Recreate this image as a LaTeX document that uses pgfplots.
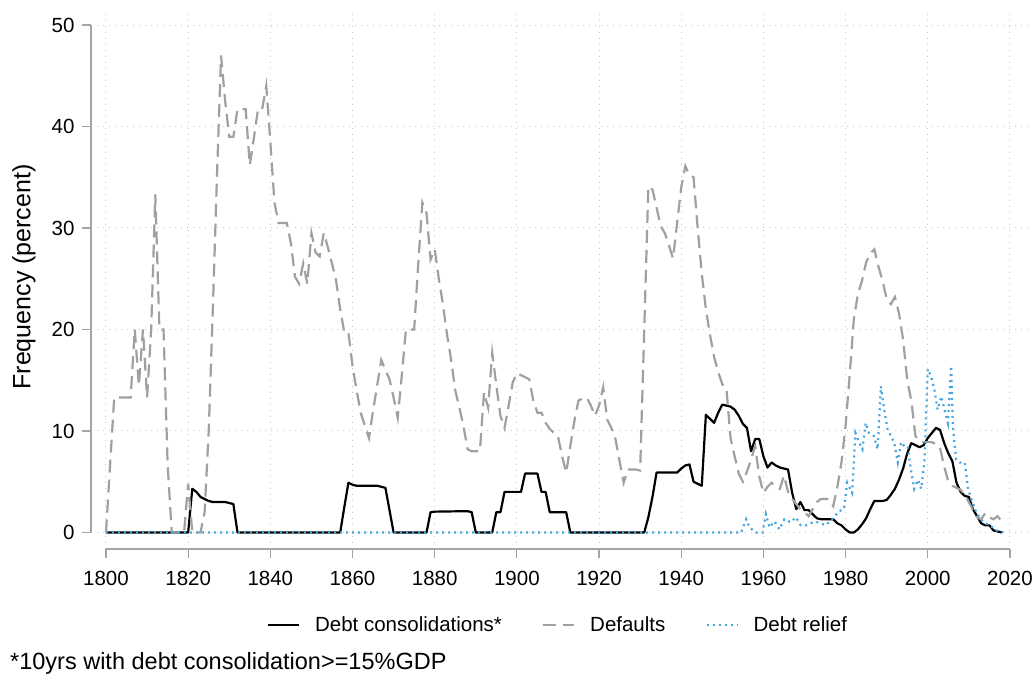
\documentclass[border=0pt]{standalone}
\usepackage{fontspec}
\setmainfont{Liberation Sans}
\usepackage{pgfplots}
\pgfplotsset{compat=1.18}
\usepackage{pgfplotstable}
\definecolor{defgray}{RGB}{160,160,160}
\definecolor{relblue}{RGB}{70,165,220}
\definecolor{gridgray}{RGB}{200,200,200}
\definecolor{axgray}{RGB}{165,165,165}

\pgfplotstableread{
year val
1800 0
1801 6.7
1802 13.3
1803 13.3
1804 13.3
1805 13.3
1806 13.3
1807 20
1808 14.5
1809 20
1810 13.3
1811 20
1812 33.3
1813 20
1814 20
1815 6.7
1816 0
1817 0
1818 0
1819 0
1820 4.8
1821 0
1822 0
1823 0
1824 2
1825 10
1826 22
1827 35
1828 47
1829 42.5
1830 39
1831 39
1832 41.7
1833 41.7
1834 41.7
1835 36.2
1836 38.9
1837 41.7
1838 41.7
1839 44
1840 38.5
1841 32.5
1842 30.5
1843 30.5
1844 30.5
1845 28.5
1846 25.2
1847 24.5
1848 26.5
1849 24.5
1850 29.5
1851 27.6
1852 27.2
1853 29.5
1854 28.1
1855 26.5
1856 24.8
1857 22
1858 19.7
1859 19.7
1860 16.4
1861 14
1862 11.8
1863 10.5
1864 9.3
1865 12
1866 14.5
1867 17
1868 16
1869 15.1
1870 13.3
1871 11.3
1872 15.5
1873 20
1874 20
1875 20
1876 26.5
1877 32.5
1878 31.5
1879 26.9
1880 27.9
1881 25
1882 22.5
1883 19.5
1884 17
1885 14
1886 12.3
1887 10.5
1888 8.2
1889 8
1890 8
1891 8
1892 13.8
1893 12.3
1894 17.7
1895 14.5
1896 11.5
1897 10.3
1898 12.5
1899 14.8
1900 15.7
1901 15.5
1902 15.3
1903 15.1
1904 13
1905 11.8
1906 11.8
1907 10.8
1908 10.2
1909 9.8
1910 9.5
1911 7.5
1912 5.9
1913 8.5
1914 11
1915 13
1916 13.2
1917 13.3
1918 12.5
1919 11.5
1920 12.5
1921 14.3
1922 11.1
1923 10.3
1924 9.2
1925 7
1926 4.9
1927 6.2
1928 6.2
1929 6.2
1930 6.1
1931 20
1932 34.1
1933 33.8
1934 32
1935 30.2
1936 29.5
1937 28.3
1938 27
1939 30.5
1940 34
1941 36.1
1942 35.2
1943 35
1944 30
1945 25.5
1946 22
1947 19.5
1948 17.3
1949 15.8
1950 14.6
1951 14.2
1952 9.3
1953 7.5
1954 5.8
1955 5
1956 6
1957 7.2
1958 8.5
1959 5.5
1960 3.9
1961 4.5
1962 4.9
1963 4.5
1964 4.3
1965 5.6
1966 4
1967 3.3
1968 2.8
1969 2.3
1970 2
1971 1.6
1972 2.3
1973 3
1974 3.3
1975 3.3
1976 3.3
1977 2.6
1978 4.5
1979 6.9
1980 10.5
1981 15.5
1982 21
1983 23.5
1984 24.8
1985 26.6
1986 27.5
1987 27.9
1988 26.2
1989 24.8
1990 23
1991 22.5
1992 23.2
1993 21.6
1994 19
1995 15
1996 13
1997 9.5
1998 9
1999 8.9
2000 8.9
2001 8.9
2002 8.7
2003 8.3
2004 6.5
2005 5
2006 4.6
2007 4.4
2008 4.2
2009 3.7
2010 3
2011 2.2
2012 1.5
2013 1.3
2014 1.9
2015 1.5
2016 1.3
2017 1.6
2018 1.1
}\defaults

\pgfplotstableread{
year val
1800 0
1820 0
1821 4.3
1822 4.0
1823 3.5
1824 3.3
1825 3.1
1826 3.0
1827 3.0
1828 3.0
1829 3.0
1830 2.9
1831 2.8
1832 0
1857 0
1858 2.5
1859 4.9
1860 4.7
1861 4.6
1866 4.6
1867 4.5
1868 4.4
1869 2.2
1870 0
1878 0
1879 2.0
1880 2.05
1888 2.1
1889 2.0
1890 0
1894 0
1895 2.0
1896 2.0
1897 4.0
1901 4.0
1902 5.8
1905 5.8
1906 4.0
1907 4.0
1908 2.0
1912 2.0
1913 0
1931 0
1932 1.5
1933 3.5
1934 5.9
1939 5.9
1940 6.3
1941 6.6
1942 6.7
1943 5.0
1944 4.8
1945 4.6
1946 11.6
1947 11.2
1948 10.8
1949 11.8
1950 12.6
1951 12.5
1952 12.4
1953 12.1
1954 11.5
1955 10.7
1956 10.3
1957 8.0
1958 9.2
1959 9.2
1960 7.5
1961 6.4
1962 6.9
1963 6.6
1964 6.4
1965 6.3
1966 6.2
1967 3.9
1968 2.3
1969 3.0
1970 2.2
1971 2.2
1972 1.8
1973 1.4
1974 1.3
1977 1.3
1978 0.9
1979 0.7
1980 0.3
1981 0
1982 0
1983 0.3
1984 0.8
1985 1.4
1986 2.3
1987 3.1
1989 3.1
1990 3.2
1991 3.7
1992 4.3
1993 5.2
1994 6.3
1995 7.8
1996 8.8
1997 8.6
1998 8.4
1999 8.6
2000 9.3
2001 9.8
2002 10.3
2003 10.1
2004 8.8
2005 7.8
2006 7.0
2007 4.9
2008 4.0
2009 3.6
2010 3.5
2011 2.3
2012 1.6
2013 0.9
2014 0.7
2015 0.7
2016 0.2
2017 0.1
2018 0
}\consol

\pgfplotstableread{
year val
1800 0
1954.6 0
1955.8 1.3
1956.6 0.5
1958.2 0
1959.8 0
1960.6 1.8
1961.5 0.5
1962.7 1.1
1963.9 0.3
1965.1 1.3
1966.7 1.0
1967.9 1.5
1969.1 0.7
1970.4 0.7
1972 1.0
1973.6 1.0
1975.1 0.7
1976.7 1.3
1978.4 2.1
1979.6 2.3
1980.4 4.9
1981.6 3.9
1982.4 9.8
1983.3 8.9
1984.1 8.2
1984.9 10.8
1985.7 9.8
1986.9 9.5
1987.8 8.2
1988.6 14.4
1989.4 12.1
1990.2 10.2
1991 9.5
1991.8 8.9
1992.7 6.9
1993.5 8.9
1994.3 8.5
1995.1 8.5
1995.9 6.2
1996.7 4.3
1997.6 5.2
1998.4 4.3
1999.2 6.9
2000 16.1
2000.8 15.4
2001.6 14.1
2002.4 12.1
2003.3 13.4
2004.1 12.1
2004.9 10.8
2005.7 16.4
2006.1 10.5
2006.9 7.2
2007.8 6.9
2009 6.9
2009.8 4.3
2010.6 3.3
2011.8 2.0
2013.5 1.0
2015.1 0.7
2016.7 0.2
2018.4 0
}\relief

\begin{document}
\begin{tikzpicture}[x=1pt,y=1pt]
\useasboundingbox (-91,-126) rectangle (944,549);
\begin{axis}[
  at={(0,0)}, anchor=south west,
  scale only axis, width=937pt, height=539pt,
  xmin=1796.35, xmax=2024.4, ymin=-1.63, ymax=51.48,
  xtick={1800,1820,...,2020}, ytick={0,10,...,50},
  tick pos=left, tick align=outside,
  major tick length=9pt,
  every tick/.style={axgray, line width=1.2pt},
  axis line style={draw=none},
  grid=major,
  major grid style={gridgray, line width=1pt, dash pattern=on 1pt off 5pt},
  ticklabel style={font=\fontsize{20.5}{23}\selectfont, /pgf/number format/assume math mode=true},
  x tick label style={/pgf/number format/1000 sep={}, yshift=-10pt},
  y tick label style={xshift=-4pt},
  ylabel={Frequency (percent)},
  ylabel style={font=\fontsize{25}{29}\selectfont, at={(axis description cs:-0.0715,0.5046)}, anchor=center},
  legend image code/.code={\draw[#1] (0pt,0pt) -- (31pt,0pt);},
  legend style={at={(0.4973,-0.141)}, anchor=center, legend columns=3, draw=none, fill=none,
    font=\fontsize{20.5}{24}\selectfont,
    /tikz/every odd column/.append style={column sep=15pt},
    /tikz/every even column/.append style={column sep=40pt},
    nodes={inner sep=0pt}},
  clip=false,
]
\addplot[black, line width=2.2pt, line join=round] table[x=year,y=val] {\consol};
\addlegendentry{Debt consolidations*}
\addplot[defgray, line width=2.2pt, dash pattern=on 13pt off 7pt] table[x=year,y=val] {\defaults};
\addlegendentry{Defaults}
\addplot[relblue, line width=2.2pt, dash pattern=on 2pt off 4pt] table[x=year,y=val] {\relief};
\addlegendentry{Debt relief}
\draw[axgray, line width=1.5pt] (axis cs:1800,-1.63) -- (axis cs:2020,-1.63);
\draw[axgray, line width=1.5pt] (axis cs:1796.35,0) -- (axis cs:1796.35,50);
\end{axis}
\node[anchor=west, inner sep=0pt, font=\fontsize{23.5}{27}\selectfont] at (-81,-114) {*10yrs with debt consolidation>=15\%GDP};
\end{tikzpicture}
\end{document}
